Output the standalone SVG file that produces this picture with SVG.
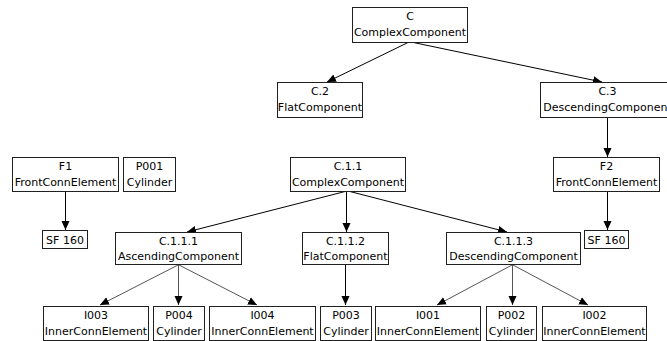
<svg xmlns="http://www.w3.org/2000/svg" width="667" height="341" viewBox="0 0 667 341">
  <style>
    .box rect { fill: #ffffff; stroke: #202020; stroke-width: 1; }
    .box text { font-family: "DejaVu Sans", "Liberation Sans", sans-serif; font-size: 11px; fill: #000000; text-anchor: middle; }
    .edge { stroke: #000000; stroke-width: 1; fill: none; marker-end: url(#arrow); }
    .edge.soft { stroke: #555555; }
  </style>
  <defs>
    <marker id="arrow" markerUnits="userSpaceOnUse" markerWidth="10" markerHeight="10" viewBox="0 0 10 10" refX="9" refY="5" orient="auto">
      <path d="M0,1 L9,5 L0,9 Z" fill="#000000"/>
    </marker>
  </defs>
  <rect width="667" height="341" fill="#ffffff"/>

  <g id="connectors">
    <line class="edge" x1="409" y1="42" x2="327" y2="82"/>
    <line class="edge" x1="411" y1="42" x2="602" y2="82"/>
    <line class="edge" x1="607.5" y1="117" x2="607.5" y2="157"/>
    <line class="edge" x1="65.5" y1="191" x2="65.5" y2="230"/>
    <line class="edge" x1="347" y1="191" x2="187" y2="232"/>
    <line class="edge" x1="346.5" y1="191" x2="346.5" y2="232"/>
    <line class="edge" x1="348" y1="191" x2="507" y2="232"/>
    <line class="edge" x1="607.5" y1="191" x2="607.5" y2="230"/>
    <line class="edge soft" x1="178" y1="265" x2="100" y2="305"/>
    <line class="edge soft" x1="178.5" y1="265" x2="178.5" y2="305"/>
    <line class="edge soft" x1="179" y1="265" x2="257" y2="305"/>
    <line class="edge" x1="345.5" y1="265" x2="345.5" y2="305"/>
    <line class="edge soft" x1="512" y1="265" x2="437" y2="305"/>
    <line class="edge soft" x1="512.5" y1="265" x2="512.5" y2="305"/>
    <line class="edge soft" x1="513" y1="265" x2="588" y2="305"/>
  </g>

  <g id="n-C" class="box">
    <rect x="352.5" y="7.5" width="115" height="35"/>
    <text x="410" y="20">C</text>
    <text x="410" y="36">ComplexComponent</text>
  </g>
  <g id="n-C2" class="box">
    <rect x="277.5" y="82.5" width="85" height="35"/>
    <text x="320" y="95">C.2</text>
    <text x="320" y="111">FlatComponent</text>
  </g>
  <g id="n-C3" class="box">
    <rect x="540.5" y="82.5" width="134" height="35"/>
    <text x="607.5" y="95">C.3</text>
    <text x="607.5" y="111">DescendingComponent</text>
  </g>
  <g id="n-F1" class="box">
    <rect x="12.5" y="157.5" width="106" height="34"/>
    <text x="65.5" y="170">F1</text>
    <text x="65.5" y="186">FrontConnElement</text>
  </g>
  <g id="n-P001" class="box">
    <rect x="123.5" y="157.5" width="52" height="34"/>
    <text x="149.5" y="170">P001</text>
    <text x="149.5" y="186">Cylinder</text>
  </g>
  <g id="n-C11" class="box">
    <rect x="290.5" y="157.5" width="115" height="34"/>
    <text x="348" y="170">C.1.1</text>
    <text x="348" y="186">ComplexComponent</text>
  </g>
  <g id="n-F2" class="box">
    <rect x="553.5" y="157.5" width="106" height="34"/>
    <text x="606.5" y="170">F2</text>
    <text x="606.5" y="186">FrontConnElement</text>
  </g>
  <g id="n-SF160a" class="box">
    <rect x="42.5" y="230.5" width="45" height="18"/>
    <text x="65" y="244">SF 160</text>
  </g>
  <g id="n-C111" class="box">
    <rect x="115.5" y="232.5" width="126" height="32"/>
    <text x="178.5" y="245">C.1.1.1</text>
    <text x="178.5" y="260">AscendingComponent</text>
  </g>
  <g id="n-C112" class="box">
    <rect x="302.5" y="232.5" width="86" height="32"/>
    <text x="345.5" y="245">C.1.1.2</text>
    <text x="345.5" y="260">FlatComponent</text>
  </g>
  <g id="n-C113" class="box">
    <rect x="446.5" y="232.5" width="134" height="32"/>
    <text x="513.5" y="245">C.1.1.3</text>
    <text x="513.5" y="260">DescendingComponent</text>
  </g>
  <g id="n-SF160b" class="box">
    <rect x="584.5" y="230.5" width="44" height="18"/>
    <text x="606.5" y="244">SF 160</text>
  </g>
  <g id="n-I003" class="box">
    <rect x="43.5" y="306.5" width="105" height="34"/>
    <text x="96" y="319">I003</text>
    <text x="96" y="335">InnerConnElement</text>
  </g>
  <g id="n-P004" class="box">
    <rect x="153.5" y="306.5" width="51" height="34"/>
    <text x="179" y="319">P004</text>
    <text x="179" y="335">Cylinder</text>
  </g>
  <g id="n-I004" class="box">
    <rect x="209.5" y="306.5" width="106" height="34"/>
    <text x="262.5" y="319">I004</text>
    <text x="262.5" y="335">InnerConnElement</text>
  </g>
  <g id="n-P003" class="box">
    <rect x="320.5" y="306.5" width="51" height="34"/>
    <text x="346" y="319">P003</text>
    <text x="346" y="335">Cylinder</text>
  </g>
  <g id="n-I001" class="box">
    <rect x="375.5" y="306.5" width="105" height="34"/>
    <text x="428" y="319">I001</text>
    <text x="428" y="335">InnerConnElement</text>
  </g>
  <g id="n-P002" class="box">
    <rect x="486.5" y="306.5" width="50" height="34"/>
    <text x="511.5" y="319">P002</text>
    <text x="511.5" y="335">Cylinder</text>
  </g>
  <g id="n-I002" class="box">
    <rect x="542.5" y="306.5" width="104" height="34"/>
    <text x="594.5" y="319">I002</text>
    <text x="594.5" y="335">InnerConnElement</text>
  </g>
</svg>
